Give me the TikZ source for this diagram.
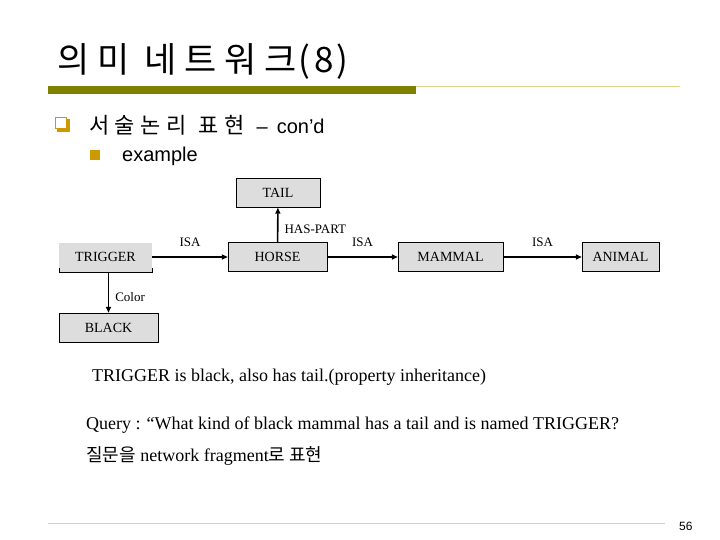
\documentclass[tikz,border=0pt]{standalone}
\usepackage{fontspec}
\setmainfont{Liberation Serif}
\setsansfont{Liberation Sans}
\newfontfamily\kr{Noto Sans CJK KR}
\usetikzlibrary{arrows.meta}
\definecolor{olivebar}{RGB}{128,128,0}
\definecolor{paleline}{RGB}{222,214,140}
\definecolor{gold}{RGB}{204,153,0}
\definecolor{boxgray}{RGB}{221,221,221}

\begin{document}
\begin{tikzpicture}[x=1pt, y=-1pt,
  concept/.style={draw, fill=boxgray, minimum height=29pt, inner sep=2pt,
    font=\fontsize{14}{16}\selectfont},
  link/.style={line width=1.6pt, -{Triangle[length=6pt, width=5pt]}},
  lbl/.style={font=\fontsize{13}{15}\selectfont, inner sep=1pt}
]
\useasboundingbox[fill=white] (0,0) rectangle (720,540);

% heading
\node[anchor=base west, inner sep=0] (title) at (57,73)
  {\kr\fontsize{35}{40}\selectfont{\addfontfeature{LetterSpace=22}의미 네트워크}%
   \hspace{2pt}{\addfontfeature{LetterSpace=10}(8)}};
\fill[olivebar] (48,86) rectangle (416,94);
\draw[paleline, line width=0.8pt] (416,86.5) -- (680,86.5);

% bullets
\fill[gold] (57,119) rectangle (70,132);
\draw[gold, fill=white, line width=1pt] (55.5,117.5) rectangle (66.5,128.5);
\node[anchor=base west, inner sep=0] (sub) at (89,134)
  {\fontsize{22}{26}\selectfont{\kr\addfontfeature{LetterSpace=25}서술논리}\hspace{12pt}%
   {\kr\addfontfeature{LetterSpace=25}표현}%
   \hspace{12pt}{\sffamily\fontsize{20}{24}\selectfont –\hspace{9pt}con’d}};
\fill[gold] (90,150) rectangle (100,160);
\node[anchor=base west, inner sep=0] (ex) at (122,162)
  {\sffamily\fontsize{20}{24}\selectfont example};

% network
\node[concept, minimum width=84pt] (tail) at (278,193) {TAIL};
\node[concept, draw=none, minimum width=93pt] (trigger) at (105.5,257) {TRIGGER};
\draw ([yshift=4pt]trigger.south west) -- (trigger.south west)
  -- (trigger.south east) -- ([yshift=4pt]trigger.south east);
\node[concept, minimum width=99pt] (horse) at (277.5,257) {HORSE};
\node[concept, minimum width=105pt] (mammal) at (450.5,257) {MAMMAL};
\node[concept, minimum width=77pt] (animal) at (620.5,257) {ANIMAL};
\node[concept, minimum width=99pt] (black) at (108.5,327.5) {BLACK};

\draw[link] (trigger) -- node[lbl, above=9pt] {ISA} (horse);
\draw[link] (horse) -- node[lbl, above=9pt] {ISA} (mammal);
\draw[link] (mammal) -- node[lbl, above=9pt] {ISA} (animal);
\draw[link] (horse) -- node[lbl, right=5pt, yshift=-4pt] {HAS-PART} (tail);
\draw[link] (trigger.south -| black) -- node[lbl, right=5pt, yshift=-5pt] {Color} (black);

% remarks
\node[anchor=base west, inner sep=0] (note) at (92,381)
  {\fontsize{18}{21}\selectfont TRIGGER is black, also has tail.(property inheritance)};
\node[anchor=base west, inner sep=0] (query) at (86,429)
  {\fontsize{18}{21}\selectfont Query : “What kind of black mammal has a tail and is named TRIGGER?};
\node[anchor=base west, inner sep=0] (frag) at (86,461)
  {\fontsize{18}{21}\selectfont{\kr 질문을} network fragment{\kr 로 표현}};

% footer
\draw[paleline, line width=0.8pt] (48,523) -- (665,523);
\node[anchor=base west, inner sep=0] (page) at (679,530)
  {\sffamily\fontsize{12}{14}\selectfont 56};
\end{tikzpicture}
\end{document}
